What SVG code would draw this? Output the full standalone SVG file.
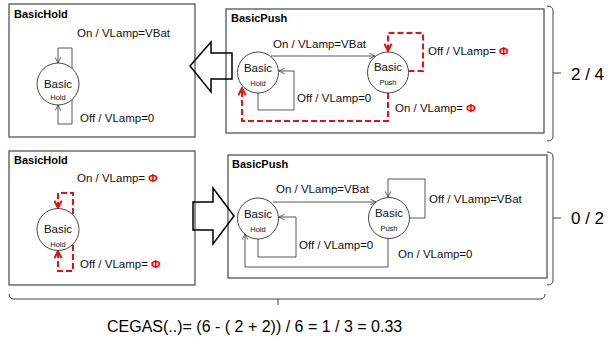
<svg xmlns="http://www.w3.org/2000/svg" width="610" height="344" viewBox="0 0 610 344">
<defs>
<style>
.box{fill:#fff;stroke:#555;stroke-width:1.3}
.title{font-family:"Liberation Sans",Arial,sans-serif;font-size:11px;font-weight:bold;fill:#000}
.lbl{font-family:"Liberation Sans",Arial,sans-serif;font-size:11.5px;fill:#111}
.st{fill:#fff;stroke:#333;stroke-width:0.9}
.sn{font-family:"Liberation Sans",Arial,sans-serif;font-size:11.5px;fill:#111;text-anchor:middle}
.ss{font-family:"Liberation Sans",Arial,sans-serif;font-size:7.5px;fill:#111;text-anchor:middle}
.phi{fill:#e00;font-weight:bold}
.c{fill:none;stroke:#444;stroke-width:0.9;marker-end:url(#ah)}
.r{fill:none;stroke:#e81010;stroke-width:2;stroke-dasharray:6,3;marker-end:url(#rh)}
.big{fill:none;stroke:#000;stroke-width:1.5;stroke-linejoin:miter}
.br{fill:none;stroke:#444;stroke-width:1}
.frac{font-family:"Liberation Sans",Arial,sans-serif;font-size:17px;fill:#000}
.eq{font-family:"Liberation Sans",Arial,sans-serif;font-size:16px;fill:#000}
</style>
<marker id="ah" viewBox="0 0 10 10" refX="9" refY="5" markerWidth="7" markerHeight="7" markerUnits="userSpaceOnUse" orient="auto"><path d="M1,1 L9,5 L1,9" fill="none" stroke="#444" stroke-width="1.2"/></marker>
<marker id="rh" viewBox="0 0 10 10" refX="9" refY="5" markerWidth="9" markerHeight="9" markerUnits="userSpaceOnUse" orient="auto"><path d="M1,1 L9,5 L1,9" fill="none" stroke="#e81010" stroke-width="2.2"/></marker>
</defs>

<g id="box-top-hold">
<rect class="box" x="9" y="4" width="186" height="133"/>
<text class="title" x="14" y="18">BasicHold</text>
</g>
<g id="box-top-push">
<rect class="box" x="226" y="9" width="318" height="124"/>
<text class="title" x="231" y="22">BasicPush</text>
</g>
<g id="box-bot-hold">
<rect class="box" x="9" y="151" width="186" height="134"/>
<text class="title" x="14" y="164">BasicHold</text>
</g>
<g id="box-bot-push">
<rect class="box" x="228" y="155" width="319" height="123"/>
<text class="title" x="232" y="168">BasicPush</text>
</g>

<g id="connectors">
<path class="c" d="M72,68.5 V48 H58 V63"/>
<path class="c" d="M72,99.5 V124 H58 V105"/>
<path class="c" d="M271,56 H375"/>
<path class="c" d="M258,93 V110 H294 V71 H279"/>
<path class="r" d="M388,93 V121 H242 V88"/>
<path class="r" d="M408.5,71 H423 V33 H388 V51"/>
<path class="r" d="M73,214 V193 H58 V208"/>
<path class="r" d="M73,245 V271 H58 V251"/>
<path class="c" d="M273,202 H376"/>
<path class="c" d="M258,239 V257 H296 V217 H279"/>
<path class="c" d="M388,238.5 V267 H245 V234"/>
<path class="c" d="M409.5,218 H425 V179 H388 V197"/>
</g>

<g id="state-top-hold">
<circle class="st" cx="58" cy="84" r="21"/>
<text class="sn" x="58" y="88">Basic</text>
<text class="ss" x="58" y="100">Hold</text>
</g>
<g id="state-top-push-hold">
<circle class="st" cx="258" cy="72.5" r="20.5"/>
<text class="sn" x="258" y="72">Basic</text>
<text class="ss" x="258" y="86">Hold</text>
</g>
<g id="state-top-push-push">
<circle class="st" cx="388" cy="72.5" r="20.5"/>
<text class="sn" x="388" y="71">Basic</text>
<text class="ss" x="388" y="85">Push</text>
</g>
<g id="state-bot-hold">
<circle class="st" cx="58" cy="229.5" r="21"/>
<text class="sn" x="58" y="233">Basic</text>
<text class="ss" x="58" y="247">Hold</text>
</g>
<g id="state-bot-push-hold">
<circle class="st" cx="258" cy="218.5" r="20.5"/>
<text class="sn" x="258" y="218">Basic</text>
<text class="ss" x="258" y="232">Hold</text>
</g>
<g id="state-bot-push-push">
<circle class="st" cx="389" cy="218" r="20.5"/>
<text class="sn" x="389" y="217">Basic</text>
<text class="ss" x="389" y="231">Push</text>
</g>

<g id="labels">
<text class="lbl" x="77" y="37">On / VLamp=VBat</text>
<text class="lbl" x="80" y="122">Off / VLamp=0</text>
<text class="lbl" x="273" y="48">On / VLamp=VBat</text>
<text class="lbl" x="297" y="102">Off / VLamp=0</text>
<text class="lbl" x="428" y="55">Off / VLamp= <tspan class="phi">Φ</tspan></text>
<text class="lbl" x="395" y="112">On / VLamp= <tspan class="phi">Φ</tspan></text>
<text class="lbl" x="77" y="182">On / VLamp= <tspan class="phi">Φ</tspan></text>
<text class="lbl" x="80" y="268">Off / VLamp= <tspan class="phi">Φ</tspan></text>
<text class="lbl" x="276" y="193">On / VLamp=VBat</text>
<text class="lbl" x="299" y="249">Off / VLamp=0</text>
<text class="lbl" x="429" y="203">Off / VLamp=VBat</text>
<text class="lbl" x="398" y="258">On / VLamp=0</text>
</g>

<g id="arrow-left">
<path class="big" d="M190,66 L211,42 V53 H232 V79 H211 V92 Z"/>
</g>
<g id="arrow-right">
<path class="big" d="M234,216 L213,188 V202 H193 V230 H213 V244 Z"/>
</g>

<g id="braces">
<path class="br" d="M547,6 Q553,6 553,11 V136 Q553,141 547,141 M553,73 H561"/>
<path class="br" d="M547,152 Q553,152 553,157 V280 Q553,285 547,285 M553,218 H561"/>
<path class="br" d="M9,294 Q9,299 14,299 H540 Q545,299 545,294 M278,299 V305"/>
</g>
<text class="frac" x="571" y="80">2 / 4</text>
<text class="frac" x="571" y="224">0 / 2</text>
<text class="eq" x="107" y="332">CEGAS(..)= (6 - ( 2 + 2)) / 6 = 1 / 3 = 0.33</text>
</svg>
